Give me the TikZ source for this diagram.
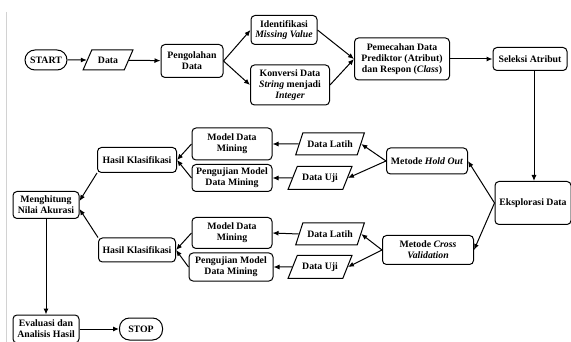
\documentclass[tikz,border=0pt]{standalone}
\usepackage{fontspec}
\setmainfont{Liberation Serif}
\usetikzlibrary{shapes.geometric,arrows.meta}

\begin{document}
\begin{tikzpicture}[x=1pt,y=-1pt,>={Latex[length=6pt,width=5pt]},line width=1pt,
        every node/.style={font=\bfseries\fontsize{9.8}{10.8}\selectfont,align=center,inner sep=1pt},
        kotak/.style={draw,rounded corners=4pt},
        ujung/.style={draw,rounded corners=10pt},
        io/.style={draw,trapezium,trapezium left angle=55,trapezium right angle=125,trapezium stretches=true}
        ]
        \useasboundingbox (0,0) rectangle (571,342);
        \draw[gray!35,line width=0.6pt] (6,12) -- (6,342);
        \node[ujung,minimum width=42pt,minimum height=20pt] (start) at (46,60) {START};
        \node[io,minimum width=50pt,minimum height=20pt] (data) at (108,60) {Data};
        \node[kotak,minimum width=62pt,minimum height=33pt] (olah) at (192,61) {Pengolahan\\Data};
        \node[kotak,minimum width=66pt,minimum height=29pt] (identifikasi) at (284,30) {Identifikasi\\\textit{Missing Value}};
        \node[kotak,minimum width=79pt,minimum height=40pt] (konversi) at (290,85) {Konversi Data\\\textit{String} menjadi\\\textit{Integer}};
        \node[kotak,minimum width=95pt,minimum height=42pt] (pecah) at (402,59) {Pemecahan Data\\Prediktor (Atribut)\\dan Respon (\textit{Class})};
        \node[kotak,minimum width=74pt,minimum height=23pt] (seleksi) at (530,59) {Seleksi Atribut};
        \node[kotak,minimum width=76pt,minimum height=43pt] (eksplorasi) at (533,203) {Eksplorasi Data};
        \node[kotak,minimum width=81pt,minimum height=26pt] (holdout) at (427,161) {Metode \textit{Hold Out}};
        \node[kotak,minimum width=91pt,minimum height=29pt] (crossval) at (428,250) {Metode \textit{Cross}\\\textit{Validation}};
        \node[io,minimum width=69pt,minimum height=22pt] (latihA) at (330,144) {Data Latih};
        \node[io,minimum width=64pt,minimum height=23pt] (ujiA) at (320,178) {Data Uji};
        \node[io,minimum width=69pt,minimum height=22pt] (latihB) at (330,234) {Data Latih};
        \node[io,minimum width=64pt,minimum height=23pt] (ujiB) at (320,267) {Data Uji};
        \node[kotak,minimum width=80pt,minimum height=32pt] (modelA) at (232,144) {Model Data\\Mining};
        \node[kotak,minimum width=80pt,minimum height=27pt] (ujimodelA) at (232,178) {Pengujian Model\\Data Mining};
        \node[kotak,minimum width=80pt,minimum height=31pt] (modelB) at (232,233) {Model Data\\Mining};
        \node[kotak,minimum width=84pt,minimum height=28pt] (ujimodelB) at (231,267) {Pengujian Model\\Data Mining};
        \node[kotak,minimum width=79pt,minimum height=25pt] (hasilA) at (137,160) {Hasil Klasifikasi};
        \node[kotak,minimum width=77pt,minimum height=24pt] (hasilB) at (137,250) {Hasil Klasifikasi};
        \node[kotak,minimum width=66pt,minimum height=27pt] (hitung) at (46,205) {Menghitung\\Nilai Akurasi};
        \node[kotak,minimum width=66pt,minimum height=28pt] (evaluasi) at (46,329) {Evaluasi dan\\Analisis Hasil};
        \node[ujung,minimum width=43pt,minimum height=22pt] (stop) at (141,329) {STOP};
        \draw[->] (start) -- (data);
        \draw[->] (data) -- (olah);
        \draw[->] (olah.east) -- (identifikasi.west);
        \draw[->] (olah.east) -- (konversi.west);
        \draw[->] (identifikasi.east) -- (pecah.west);
        \draw[->] (konversi.east) -- (pecah.west);
        \draw[->] (pecah) -- (seleksi);
        \draw[->] ([xshift=4pt]seleksi.south) -- ([xshift=4pt]seleksi.south |- eksplorasi.north);
        \draw[->] (eksplorasi.west) -- (holdout.east);
        \draw[->] (eksplorasi.west) -- (crossval.east);
        \draw[->] (holdout.west) -- (latihA.east);
        \draw[->] (holdout.west) -- (ujiA.east);
        \draw[->] (crossval.west) -- (latihB.east);
        \draw[->] (crossval.west) -- (ujiB.east);
        \draw[->] (latihA.west) -- (modelA.east);
        \draw[->] (ujiA.west) -- (ujimodelA.east);
        \draw[->] (latihB.west) -- (modelB.east);
        \draw[->] (ujiB.west) -- (ujimodelB.east);
        \draw[->] (modelA.west) -- (hasilA.east);
        \draw[->] (ujimodelA.west) -- (hasilA.east);
        \draw[->] (modelB.west) -- (hasilB.east);
        \draw[->] (ujimodelB.west) -- (hasilB.east);
        \draw[->] (hasilA.south west) -- ([yshift=4pt]hitung.east);
        \draw[->] (hasilB.north west) -- ([yshift=-4pt]hitung.east);
        \draw[->] (hitung) -- (evaluasi);
        \draw[->] (evaluasi) -- (stop);
        \end{tikzpicture}
\end{document}
